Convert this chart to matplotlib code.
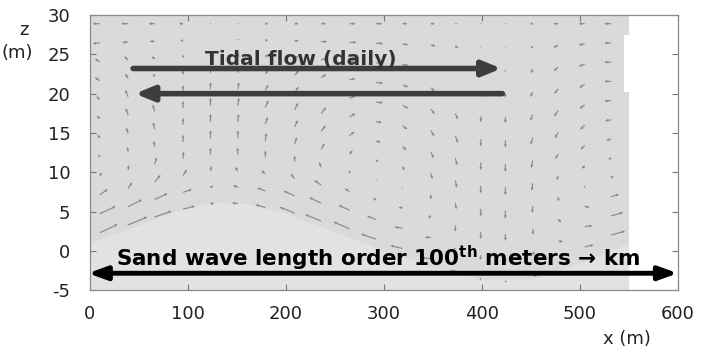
import numpy as np
import matplotlib
matplotlib.use("Agg")
import matplotlib.pyplot as plt

plt.rcParams['font.family'] = ['DejaVu Sans']
plt.rcParams['axes.unicode_minus'] = False
plt.rcParams['mathtext.fontset'] = 'custom'
plt.rcParams['mathtext.rm'] = 'DejaVu Sans:bold'
plt.rcParams['mathtext.it'] = 'DejaVu Sans:bold'
plt.rcParams['mathtext.bf'] = 'DejaVu Sans:bold'

# quiver grid: column positions (m) and lowest vector level per column (m)
x_cols = [10, 39, 66, 95, 123, 151, 179, 209, 236, 265,
          292, 319, 348, 373, 399, 424, 452, 478, 505, 532]
bed_rows = [2.3, 3.3, 4.3, 5.3, 6.0, 6.0, 5.5, 4.8, 3.8, 2.8,
            1.5, 0.3, -1.0, -2.5, -3.5, -3.8, -3.0, -1.5, 0.5, 2.0]
top_row = 28.9
n_levels = 12

# velocity components, rows from surface (top) down to the bed
U = [
    [-0.7, -0.7, -0.6, -0.4, -0.1, 0.1, 0.3, 0.4, 0.5, 0.6, 0.6, 0.5, 0.4, 0.2, 0.0, 0.0, -0.3, -0.5, -0.6, -0.7],
    [-0.7, -0.6, -0.5, -0.3, 0.0, 0.15, 0.3, 0.4, 0.6, 0.7, 0.7, 0.6, 0.5, 0.3, 0.0, 0.0, -0.2, -0.5, -0.6, -0.7],
    [-0.5, -0.4, -0.3, 0.0, 0.0, 0.1, 0.3, 0.4, 0.6, 0.6, 0.7, 0.6, 0.4, 0.25, 0.0, 0.0, -0.2, -0.45, -0.6, -0.7],
    [-0.5, -0.3, -0.15, 0.0, 0.0, 0.1, 0.3, 0.4, 0.5, 0.6, 0.7, 0.6, 0.4, 0.3, 0.0, 0.0, -0.25, -0.4, -0.55, -0.7],
    [-0.35, -0.3, -0.2, 0.0, 0.0, 0.1, 0.3, 0.4, 0.5, 0.6, 0.7, 0.6, 0.4, 0.25, 0.0, 0.0, -0.25, -0.4, -0.5, -0.7],
    [-0.3, -0.25, -0.2, 0.0, 0.0, 0.1, 0.3, 0.35, 0.5, 0.6, 0.6, 0.5, 0.35, 0.25, 0.0, 0.0, -0.2, -0.35, -0.45, -0.6],
    [-0.25, -0.2, -0.15, 0.0, 0.0, 0.05, 0.25, 0.3, 0.45, 0.5, 0.5, 0.4, 0.3, 0.2, 0.0, 0.0, -0.15, -0.3, -0.4, -0.5],
    [-0.2, -0.1, -0.1, 0.0, 0.0, 0.0, 0.1, 0.2, 0.35, 0.3, 0.3, 0.25, 0.15, 0.15, 0.0, 0.0, -0.1, -0.15, -0.3, -0.3],
    [0.2, 0.05, 0.2, 0.05, 0.0, -0.05, 0.0, 0.0, -0.2, 0.0, 0.1, 0.0, 0.0, 0.1, 0.0, 0.0, -0.05, 0.05, 0.0, 0.3],
    [0.8, 0.4, 0.6, 0.4, 0.1, -0.3, -0.4, -0.4, -0.7, -0.5, -0.3, -0.4, -0.3, 0.0, 0.0, 0.02, 0.05, 0.3, 0.5, 0.8],
    [1.6, 1.4, 1.3, 0.9, 0.3, -0.5, -0.8, -1.1, -1.2, -1.1, -0.9, -0.8, -0.6, -0.3, -0.05, 0.05, 0.2, 0.5, 0.8, 1.2],
    [1.8, 1.9, 1.7, 1.2, 0.4, -0.6, -1.0, -1.5, -1.6, -1.6, -1.5, -1.2, -0.9, -0.6, -0.1, 0.1, 0.4, 0.6, 0.9, 1.4],
]
V = [
    [0.0, 0.0, 0.0, 0.0, 0.0, 0.0, 0.0, 0.0, 0.0, 0.0, 0.0, 0.0, 0.0, 0.0, 0.0, 0.0, 0.0, 0.0, 0.0, 0.0],
    [-0.1, -0.05, 0.0, 0.0, 0.1, 0.1, 0.05, 0.05, 0.0, 0.0, 0.0, -0.05, -0.1, -0.2, -0.1, -0.1, -0.2, -0.2, -0.1, 0.0],
    [0.3, 0.4, 0.25, 0.3, 0.3, 0.3, 0.3, 0.2, 0.1, 0.0, -0.05, -0.1, -0.2, -0.3, -0.2, -0.2, -0.4, -0.4, -0.2, 0.0],
    [0.35, 0.5, 0.3, 0.4, 0.5, 0.5, 0.4, 0.5, 0.3, 0.1, -0.1, -0.2, -0.35, -0.5, -0.4, -0.4, -0.5, -0.5, -0.3, 0.0],
    [0.35, 0.7, 0.6, 0.6, 0.7, 0.7, 0.6, 0.6, 0.45, 0.25, -0.1, -0.3, -0.5, -0.6, -0.6, -0.6, -0.6, -0.6, -0.4, -0.05],
    [0.3, 0.7, 0.7, 0.7, 0.8, 0.8, 0.7, 0.7, 0.6, 0.35, -0.1, -0.35, -0.6, -0.7, -0.7, -0.7, -0.7, -0.6, -0.45, -0.1],
    [0.3, 0.6, 0.7, 0.7, 0.8, 0.8, 0.7, 0.7, 0.6, 0.4, -0.1, -0.4, -0.65, -0.7, -0.75, -0.8, -0.75, -0.5, -0.4, -0.15],
    [0.2, 0.5, 0.6, 0.7, 0.8, 0.8, 0.8, 0.7, 0.6, 0.4, 0.0, -0.35, -0.6, -0.7, -0.75, -0.8, -0.75, -0.45, -0.3, -0.1],
    [0.35, 0.5, 0.7, 0.7, 0.7, 0.7, 0.7, 0.6, 0.5, 0.3, 0.1, -0.1, -0.5, -0.6, -0.75, -0.8, -0.7, -0.4, -0.2, 0.1],
    [0.55, 0.6, 0.7, 0.6, 0.5, 0.4, 0.4, 0.5, 0.5, 0.3, 0.2, 0.0, -0.2, -0.6, -0.7, -0.7, -0.6, -0.35, -0.1, 0.25],
    [0.75, 0.7, 0.6, 0.3, 0.15, 0.2, 0.3, 0.5, 0.55, 0.5, 0.35, 0.1, 0.0, -0.4, -0.5, -0.5, -0.4, -0.1, 0.1, 0.35],
    [0.85, 0.8, 0.6, 0.3, 0.05, 0.1, 0.3, 0.6, 0.65, 0.7, 0.5, 0.3, 0.1, -0.1, -0.2, -0.2, -0.2, 0.0, 0.2, 0.4],
]

# sand wave surface (lighter region)
sand_x = [0, 50, 100, 130, 160, 200, 250, 300, 350, 400, 450, 500, 550]
sand_z = [1.0, 3.3, 5.6, 6.2, 6.0, 4.8, 2.4, 0.0, -2.0, -3.6, -3.6, -1.6, 1.0]

# right edge of the model domain
edge_x = [550, 550, 545, 545, 550, 550]
edge_z = [30, 27.4, 27.4, 20.2, 20.2, -5]

fig = plt.figure(figsize=(7.03, 3.5), dpi=100)
ax = fig.add_axes([0.128, 0.171, 0.836, 0.786])

ax.fill([0, 0] + edge_x, [-5, 30] + edge_z, color='#dadada', lw=0, zorder=0)
ax.fill_between(sand_x, [-5] * len(sand_x), sand_z, color='#e2e2e2', lw=0, zorder=0.5)

xc = np.array(x_cols, dtype=float)
bed = np.array(bed_rows)
frac = np.arange(n_levels) / (n_levels - 1)
Z = top_row - (top_row - bed[None, :]) * frac[:, None]
X = np.repeat(xc[None, :], n_levels, axis=0)
ax.quiver(X, Z, np.array(U), np.array(V), angles='uv', scale_units='width',
          scale=58.8, width=0.002, headwidth=2.6, headlength=2.8, headaxislength=2.6,
          color='#8a8a8a', zorder=2)

# tidal flow arrows
ax.annotate('', xy=(420, 23.2), xytext=(44, 23.2),
            arrowprops=dict(arrowstyle='-|>,head_length=1.1,head_width=0.45',
                            color='#3d3d3d', lw=4, shrinkA=0, shrinkB=0), zorder=4)
ax.annotate('', xy=(46, 20.0), xytext=(421, 20.0),
            arrowprops=dict(arrowstyle='-|>,head_length=1.1,head_width=0.45',
                            color='#3d3d3d', lw=4, shrinkA=0, shrinkB=0), zorder=4)
ax.text(215, 23.6, 'Tidal flow (daily)', fontsize=14.5, fontweight='bold',
        color='#333333', ha='center', va='baseline', zorder=5)

# sand wave length arrow
ax.annotate('', xy=(600, -2.85), xytext=(-2, -2.85),
            arrowprops=dict(arrowstyle='<|-|>,head_length=1.1,head_width=0.4',
                            color='black', lw=3.5, shrinkA=0, shrinkB=0), zorder=4,
            annotation_clip=False)
ax.text(294, -2.0, 'Sand wave length order 100$^{th}$ meters \u2192 km', fontsize=15.5,
        fontweight='bold', color='black', ha='center', va='baseline', zorder=5)

ax.set_xlim(0, 600)
ax.set_ylim(-5, 30)
ax.set_xticks([0, 100, 200, 300, 400, 500, 600])
ax.set_yticks([-5, 0, 5, 10, 15, 20, 25, 30])
ax.tick_params(direction='in', length=4, width=0.8, color='#777777',
               top=True, right=True, labelsize=13, labelcolor='#222222')
ax.tick_params(axis='x', pad=11)
ax.tick_params(axis='y', pad=14)
for s in ax.spines.values():
    s.set_color('#8a8a8a')
    s.set_linewidth(0.9)

fig.text(24 / 703, 1 - 30 / 350, 'z', fontsize=13, ha='center', va='center', color='#222222')
fig.text(17 / 703, 1 - 53 / 350, '(m)', fontsize=13, ha='center', va='center', color='#222222')
fig.text(627 / 703, 1 - 339 / 350, 'x (m)', fontsize=13, ha='center', va='center', color='#222222')

fig.savefig('out.png', dpi=100)
